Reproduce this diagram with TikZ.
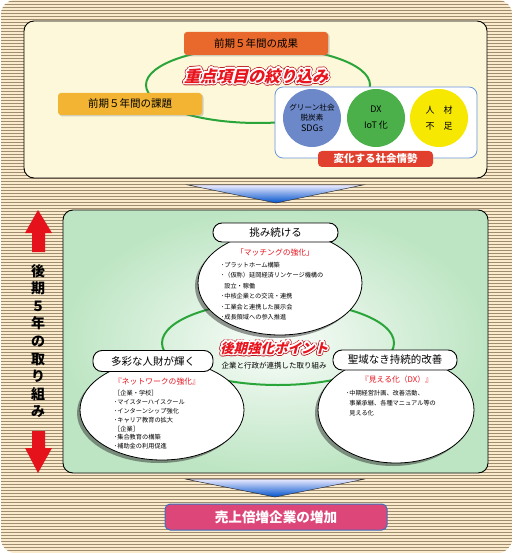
\documentclass[tikz,border=0pt]{standalone}
\usepackage{fontspec}
\setmainfont{Noto Sans CJK JP}
\newfontfamily\slantjp{Noto Sans CJK JP}[FakeSlant=0.25]
\usetikzlibrary{shapes.geometric,shadows,positioning}

\definecolor{stripebg}{HTML}{FBEBCD}
\definecolor{stripeline}{HTML}{A08C6E}
\definecolor{panelcream}{HTML}{FDF8DA}
\definecolor{ringgreen}{HTML}{2AA53A}
\definecolor{seikaorange}{HTML}{E8692B}
\definecolor{kadaiyellow}{HTML}{F2B432}
\definecolor{sdgblue}{HTML}{6C88C8}
\definecolor{dxgreen}{HTML}{4BB04A}
\definecolor{jinzaiyellow}{HTML}{F6E800}
\definecolor{trendred}{HTML}{E2402E}
\definecolor{trendframe}{HTML}{6A96D8}
\definecolor{greenedge}{HTML}{BDE5C3}
\definecolor{arrowred}{HTML}{E6121B}
\definecolor{goalpink}{HTML}{DC4678}
\definecolor{goalframe}{HTML}{3D72BF}
\definecolor{titlered}{HTML}{E8141E}

\newcommand\fs[1]{\fontsize{#1}{1.2\dimexpr#1pt\relax}\selectfont}
% text with a coloured halo round it
\newcommand\halo[3]{%
  \foreach \ang in {0,22.5,...,337.5}{%
    \pgfmathsetlengthmacro\hx{#2*cos(\ang)}%
    \pgfmathsetlengthmacro\hy{#2*sin(\ang)}%
    \rlap{\kern\hx\raisebox{\hy}{\color{#1}#3}}}}
\newcommand\outlined[1]{\halo{titlered!80!black}{2.2pt}{#1}\halo{white}{1.5pt}{#1}\textcolor{titlered}{#1}}

\begin{document}
\begin{tikzpicture}[
  x=1pt, y=-1pt,
  ring/.style={draw=ringgreen, line width=2pt},
  phasebox/.style={rounded corners=3pt, inner sep=0pt, font=\fs{10.5},
    drop shadow={shadow xshift=1.5pt, shadow yshift=-1.5pt, opacity=0.35}},
  trend/.style={circle, inner sep=0pt, minimum size=58pt, align=center},
  tagbox/.style={draw=black, line width=0.9pt, fill=white, rounded corners=9pt,
    inner sep=0pt, font=\fs{10.5}},
  bubble/.style={ellipse, draw=black, line width=0.8pt, fill=white,
    drop shadow={shadow xshift=-3pt, shadow yshift=-3pt, opacity=0.5, fill=black!80}},
  bubbletitle/.style={text=titlered, font=\fs{7.8}, inner sep=0pt},
  itemlist/.style={anchor=north west, align=left, inner sep=0pt,
    font=\fontsize{6.2}{#1}\selectfont},
  downarrow/.style={draw=black!80, line width=0.5pt, top color=blue!8, bottom color=blue!60!cyan!80!black}
]
\useasboundingbox (0,0) rectangle (512,553);

% === Striped background ===
\begin{scope}
  \clip[rounded corners=14pt] (1,0) rectangle (512,553);
  \fill[stripebg] (0,0) rectangle (512,553);
  \foreach \y in {1.5,4.5,...,553}
    \draw[stripeline, line width=0.9pt] (0,\y) -- (512,\y);
\end{scope}

% === Upper panel: first five years ===
\draw[fill=panelcream, line width=0.9pt, rounded corners=10pt] (24,21) rectangle (487,178);
\draw[ring] (258,85) ellipse [x radius=112, y radius=38];

\node[phasebox, fill=seikaorange, minimum width=144pt, minimum height=23pt] (seika) at (256,43.5) {前期５年間の成果};
\node[phasebox, fill=kadaiyellow, minimum width=144pt, minimum height=22pt] (kadai) at (130,104) {前期５年間の課題};
\node[inner sep=0pt, font=\slantjp\bfseries\fs{16}] (focus) at (256,76) {\outlined{重点項目の絞り込み}};

% === Changing social conditions ===
\draw[trendframe, fill=white, line width=0.8pt, rounded corners=8pt] (275,87) rectangle (477,158);
\node[trend, fill=sdgblue] (green) at (312,118)
  {\fs{7.6}グリーン社会\\[-1.5pt]\fs{7.6}脱炭素\\[-1pt]\fs{9}SDGs};
\node[trend, fill=dxgreen] (dx) at (376,118)
  {\fs{9}DX\\[4pt]\fs{9}IoT 化};
\node[trend, fill=jinzaiyellow] (jinzai) at (439,118)
  {\fs{9}人\hspace{1em}材\\[4pt]\fs{9}不\hspace{1em}足};
\node[fill=trendred, text=white, rounded corners=4pt, inner sep=0pt, minimum width=115pt,
  minimum height=16pt, font=\bfseries\fs{10.5}] (trend) at (375.5,159) {変化する社会情勢};

% === Arrow to the second five years ===
\draw[downarrow] (188,185) -- (363,185) -- (276,203) -- cycle;

% === Middle panel: second five years ===
\draw[line width=0.9pt, rounded corners=10pt, inner color=white!92!greenedge, outer color=greenedge]
  (63,210) rectangle (488,473);
\draw[ring] (278,343) ellipse [x radius=116, y radius=42];

% left double arrow
\fill[arrowred] (38,210) -- (52,233) -- (45,233) -- (45,252) -- (32,252) -- (32,233) -- (25,233) -- cycle;
\fill[arrowred] (38,473) -- (52,448) -- (45,448) -- (45,431) -- (32,431) -- (32,448) -- (25,448) -- cycle;
\node[align=center, inner sep=0pt, font=\bfseries\fontsize{14}{17.6}\selectfont] (phase) at (38,341)
  {後\\期\\５\\年\\の\\取\\り\\組\\み};

% top bubble
\node[bubble, minimum width=164pt, minimum height=104pt] (topbubble) at (280,283) {};
\node[tagbox, minimum width=125pt, minimum height=19pt] (toptag) at (275.5,232.5) {挑み続ける};
\node[bubbletitle] (toptitle) at (275,253) {「マッチングの強化」};
\node[itemlist=10.4] (toplist) at (221,262)
  {･プラットホーム構築\\
   ･（仮称）延岡経済リンケージ機構の\\
   \hspace{3.1pt}設立・稼働\\
   ･中核企業との交流・連携\\
   ･工業会と連携した展示会\\
   ･成長領域への参入推進};

% left bubble
\node[bubble, minimum width=164pt, minimum height=100pt] (leftbubble) at (162,410) {};
\node[tagbox, minimum width=120pt, minimum height=21pt] (lefttag) at (153,361) {多彩な人財が輝く};
\node[bubbletitle] (lefttitle) at (157,382) {『ネットワークの強化』};
\node[itemlist=8.8] (leftlist) at (114,390.5)
  {［企業・学校］\\
   ･マイスターハイスクール\\
   ･インターンシップ強化\\
   ･キャリア教育の拡大\\
   ［企業］\\
   ･集合教育の構築\\
   ･補助金の利用促進};

% right bubble
\node[bubble, minimum width=156pt, minimum height=106pt] (rightbubble) at (396,410) {};
\node[tagbox, minimum width=124pt, minimum height=20pt] (righttag) at (395,360) {聖域なき持続的改善};
\node[bubbletitle] (righttitle) at (397,380) {『見える化（DX）』};
\node[itemlist=10] (rightlist) at (346,390.5)
  {･中期経営計画、改善活動、\\
   \hspace{3.1pt}事業承継、各種マニュアル等の\\
   \hspace{3.1pt}見える化};

% centre point
\node[inner sep=0pt, font=\slantjp\bfseries\fs{13.5}] (point) at (274,348) {\outlined{後期強化ポイント}};
\node[inner sep=0pt, font=\fs{7.5}, below=5pt of point] (pointsub) {企業と行政が連携した取り組み};

% === Goal ===
\draw[downarrow] (185,479) -- (365,479) -- (275,497) -- cycle;
\node[draw=goalframe, fill=goalpink, line width=1pt, rounded corners=5pt, text=white,
  minimum width=222pt, minimum height=26pt, inner sep=0pt, font=\bfseries\fs{13.6}] (goal) at (276,517)
  {売上倍増企業の増加};

\end{tikzpicture}
\end{document}
